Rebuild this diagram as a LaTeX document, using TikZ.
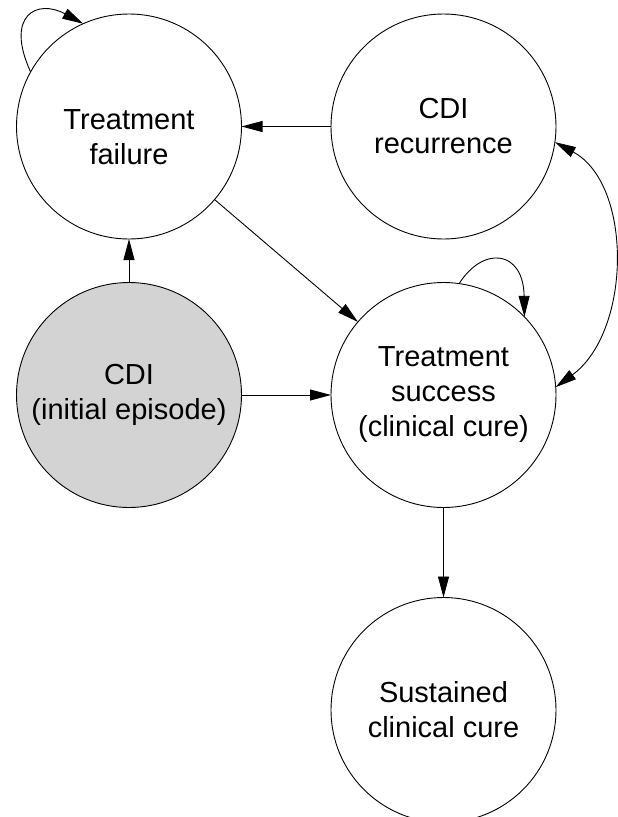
\documentclass[tikz,border=0pt]{standalone}
\usepackage{fontspec}
\setmainfont{Liberation Sans}
\usetikzlibrary{arrows.meta}
\definecolor{startgray}{RGB}{211,211,211}
\begin{document}
\begin{tikzpicture}[x=1pt,y=-1pt,
  state/.style={circle,draw=black,line width=0.9pt,minimum size=225pt,inner sep=0pt,outer sep=0pt,
    align=center,font=\fontsize{29}{35}\selectfont,fill=white},
  txt/.style={align=center,font=\fontsize{29}{35}\selectfont,inner sep=0pt},
  tip/.tip={Triangle[length=21pt,width=11pt]},
  arr/.style={draw=black,line width=0.9pt,-tip},
  arrboth/.style={draw=black,line width=0.9pt,tip-tip}]
\useasboundingbox (0,0) rectangle (618,817);
\node[state] (F) at (129,126.5) {};
\node[txt] (Ft) at (129,137) {Treatment\\failure};
\node[state] (R) at (443.5,126.5) {CDI\\recurrence};
\node[state,fill=startgray] (I) at (129,395) {CDI\\(initial episode)};
\node[state] (S) at (443.5,395) {Treatment\\success\\(clinical cure)};
\node[state] (C) at (443.5,710) {Sustained\\clinical cure};
\draw[arr] (I) -- (F);
\draw[arr] (I) -- (S);
\draw[arr] (R) -- (F);
\draw[arr] (F) -- (S);
\draw[arr] (S) -- (C);
\draw[arr] (F.151) .. controls +(-26,-57) and +(-46,-25) .. (F.114);
\draw[arr] (S.82.6) .. controls +(24,-38) and +(-1,-67) .. (S.44.5);
\draw[arrboth] (R.-8) .. controls +(78,42) and +(76,-56) .. (S.4);
\end{tikzpicture}
\end{document}
